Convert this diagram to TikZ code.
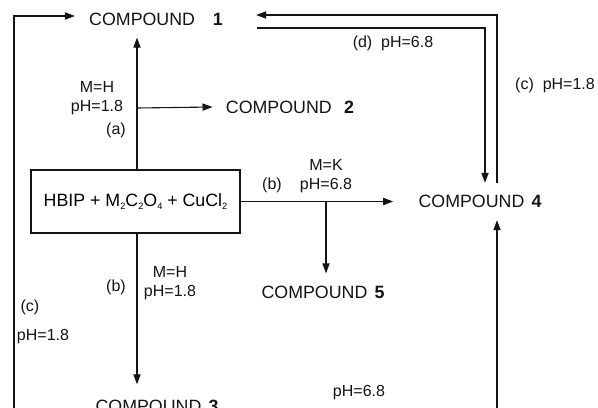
\documentclass[tikz,border=0pt]{standalone}
\usepackage{fontspec}
\setmainfont{Liberation Sans}
\usepackage{tikz}
\usetikzlibrary{positioning,arrows.meta,calc}
\definecolor{InkBlack}{RGB}{20,20,20}
\newcommand{\chemsub}[1]{\raisebox{-0.35ex}{\fontsize{4.6}{5}\selectfont #1}}
\tikzset{
  flow/.style={-{Triangle[length=5pt,width=3.6pt]},line width=0.55pt,draw=InkBlack},
  cmpd/.style={inner xsep=7pt,inner ysep=6pt,font=\fontsize{8.9}{10.6}\selectfont,text=InkBlack},
  mixbox/.style={draw=InkBlack,line width=0.55pt,minimum width=104.5pt,minimum height=31.5pt,
    inner sep=0pt,align=center,font=\fontsize{8.9}{10.6}\selectfont},
  lbl/.style={inner sep=0pt,align=center,font=\fontsize{8}{9.6}\selectfont,text=InkBlack}
}
\begin{document}
\begin{tikzpicture}[x=0.5pt,y=-0.5pt]
  \useasboundingbox[fill=white] (0,0) rectangle (598,407);
  \node[cmpd] (c1) at (156,19) {COMPOUND\hspace{1em}\textbf{1}};
  \node[cmpd] (c2) at (290,107) {COMPOUND\hspace{0.7em}\textbf{2}};
  \node[cmpd] (c4) at (480,201.5) {COMPOUND\hspace{0.4em}\textbf{4}};
  \node[cmpd] (c5) at (323,292) {COMPOUND\hspace{0.4em}\textbf{5}};
  \node[cmpd] (c3) at (157,406) {COMPOUND\hspace{0.4em}\textbf{3}};
  \node[mixbox] (mix) at (135.5,201.5)
    {HBIP + M\chemsub{2}C\chemsub{2}O\chemsub{4} + CuCl\chemsub{2}};
  % junctions and loop corners
  \coordinate (ja) at (137,108);
  \coordinate (jb) at (326,202);
  \coordinate (lb) at (14,420);
  \coordinate (rc) at (497,15);
  \coordinate (d0) at (257,28);
  \coordinate (rb) at (497,420);
  % M=H, pH=1.8 branch
  \draw[flow] (mix.north -| ja) -- (ja |- c1.south);
  \draw[flow] (ja) -- ([xshift=0.5pt]c2.west);
  % M=K, pH=6.8 branch
  \draw[flow] (mix.east) -- (c4.west) [shorten >=5.5pt];
  \draw[flow] (jb) -- (jb |- c5.north);
  % M=H lower branch
  \draw[flow] (mix.south -| ja) -- (ja |- c3.north) [shorten >=1.5pt];
  % loops between compounds
  \draw[flow] (lb) |- ([yshift=1.5pt]c1.west);
  \draw[flow] (c4.north -| rc) -- (rc) -- (rc -| c1.east) [shorten >=9.5pt];
  \draw[flow] (d0) -| ([xshift=2.5pt]c4.north);
  \draw[flow] (rb) -- (rb |- c4.south);
  % labels
  \node[lbl] (la) at (97,98.5) {M=H\\pH=1.8};
  \node[lbl] (lta) at (116,130) {(a)};
  \node[lbl] (lk) at (326,176) {M=K\\pH=6.8};
  \node[lbl] (ltb) at (272,185) {(b)};
  \node[lbl] (lh) at (170,283.5) {M=H\\pH=1.8};
  \node[lbl] (ltb2) at (116,287) {(b)};
  \node[lbl] (ltc) at (30,307) {(c)};
  \node[lbl] (lpc) at (43,337) {pH=1.8};
  \node[lbl] (ld) at (393,43) {(d)~~pH=6.8};
  \node[lbl] (lc) at (555,85) {(c)~~pH=1.8};
  \node[lbl] (lp) at (359,393) {pH=6.8};
\end{tikzpicture}
\end{document}
